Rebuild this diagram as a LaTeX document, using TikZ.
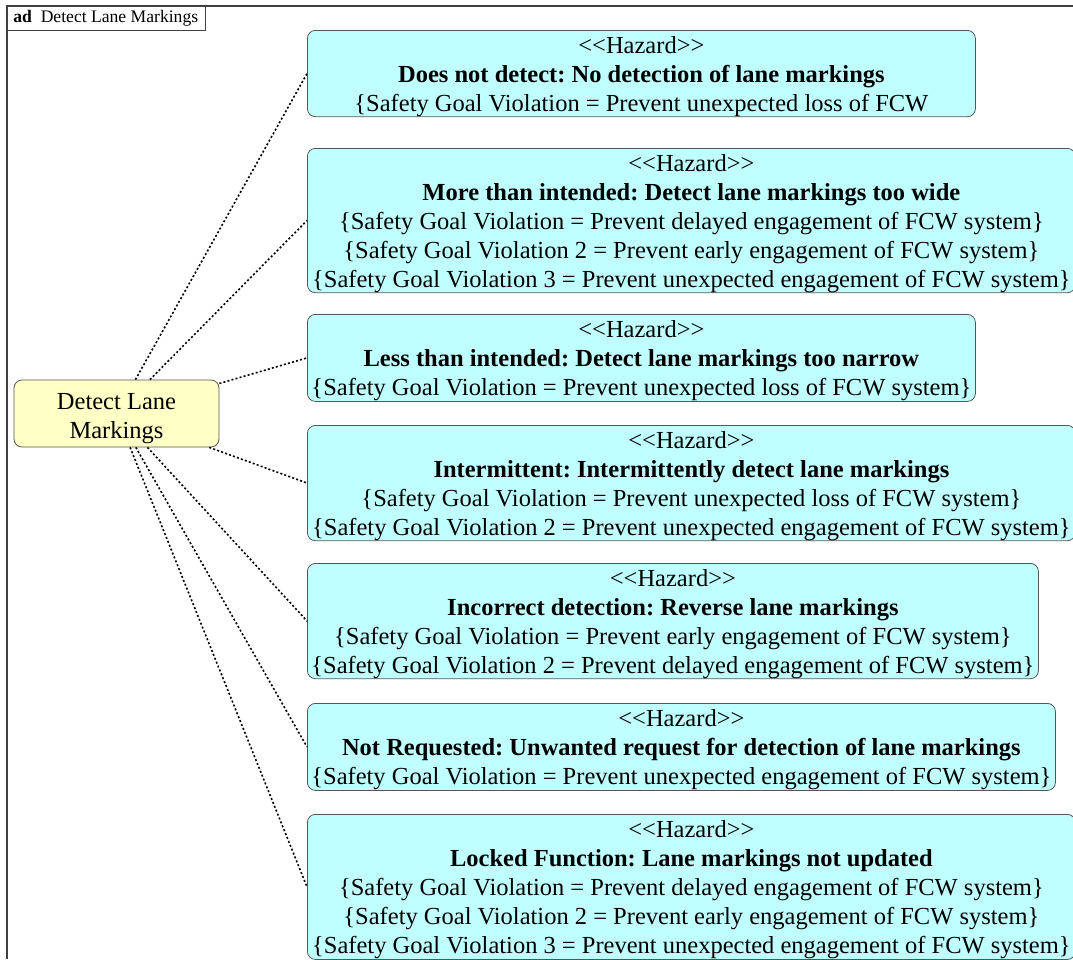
\documentclass[tikz,border=0pt]{standalone}
\usepackage{fontspec}
\setmainfont{Liberation Serif}
\frenchspacing

\definecolor{hazcyan}{HTML}{C0FFFF}
\definecolor{actyellow}{HTML}{FFFFC6}
\definecolor{edgegray}{HTML}{555555}

\newcommand{\stereo}[1]{\rule{0pt}{23pt}<\kern0pt<#1>\kern0pt>}
\newcommand{\sgv}[1]{\{Safety Goal Violation#1 = Prevent}

\tikzset{
  hazard/.style={draw=edgegray, fill=hazcyan, rounded corners=8pt, line width=0.8pt,
    anchor=north west, align=center, inner sep=0pt,
    font=\fontsize{24.5}{29}\selectfont},
  action/.style={draw=edgegray, fill=actyellow, rounded corners=8pt, line width=0.8pt,
    align=center, inner sep=0pt, minimum width=205pt, minimum height=67pt,
    font=\fontsize{24.5}{29}\selectfont},
  trace/.style={line width=1.6pt, dash pattern=on 2pt off 2.2pt},
  frame/.style={draw=black!75, line width=1.4pt}
}

\begin{document}
\begin{tikzpicture}[x=1pt,y=-1pt]
\useasboundingbox (0,0) rectangle (1073,959);

% diagram frame and its tab
\draw[frame] (7,959) -- (7,6) -- (1073,6);
\node[draw=black!75, line width=0.8pt, anchor=north west, minimum width=198pt, minimum height=24pt,
  inner xsep=6pt, inner ysep=0pt, font=\fontsize{17.6}{20}\selectfont] (tab) at (7,6)
  {\makebox[186pt][l]{\textbf{ad}\enspace Detect Lane Markings}};

\node[action] (dlm) at (116.5,413.5) {\rule{0pt}{26pt}Detect Lane\\Markings};

\node[hazard, minimum width=668pt, minimum height=86pt] (h1) at (307,30)
  {\stereo{Hazard}\\
   \textbf{Does not detect: No detection of lane markings}\\
   \sgv{} unexpected loss of FCW};

\node[hazard, minimum width=768pt, minimum height=144pt] (h2) at (307,148)
  {\stereo{Hazard}\\
   \textbf{More than intended: Detect lane markings too wide}\\
   \sgv{} delayed engagement of FCW system\}\\
   \sgv{ 2} early engagement of FCW system\}\\
   \sgv{ 3} unexpected engagement of FCW system\}};

\node[hazard, minimum width=668pt, minimum height=87pt] (h3) at (307,314)
  {\stereo{Hazard}\\
   \textbf{Less than intended: Detect lane markings too narrow}\\
   \sgv{} unexpected loss of FCW system\}};

\node[hazard, minimum width=768pt, minimum height=115pt] (h4) at (307,425)
  {\stereo{Hazard}\\
   \textbf{Intermittent: Intermittently detect lane markings}\\
   \sgv{} unexpected loss of FCW system\}\\
   \sgv{ 2} unexpected engagement of FCW system\}};

\node[hazard, minimum width=731pt, minimum height=115pt] (h5) at (307,563)
  {\stereo{Hazard}\\
   \textbf{Incorrect detection: Reverse lane markings}\\
   \sgv{} early engagement of FCW system\}\\
   \sgv{ 2} delayed engagement of FCW system\}};

\node[hazard, minimum width=748pt, minimum height=87pt] (h6) at (307,703)
  {\stereo{Hazard}\\
   \textbf{Not Requested: Unwanted request for detection of lane markings}\\
   \sgv{} unexpected engagement of FCW system\}};

\node[hazard, minimum width=768pt, minimum height=145pt] (h7) at (307,814)
  {\stereo{Hazard}\\
   \textbf{Locked Function: Lane markings not updated}\\
   \sgv{} delayed engagement of FCW system\}\\
   \sgv{ 2} early engagement of FCW system\}\\
   \sgv{ 3} unexpected engagement of FCW system\}};

\foreach \h in {h1,h2,h3,h4,h5,h6,h7}
  \draw[trace] (dlm) -- (\h.west);
\end{tikzpicture}
\end{document}
